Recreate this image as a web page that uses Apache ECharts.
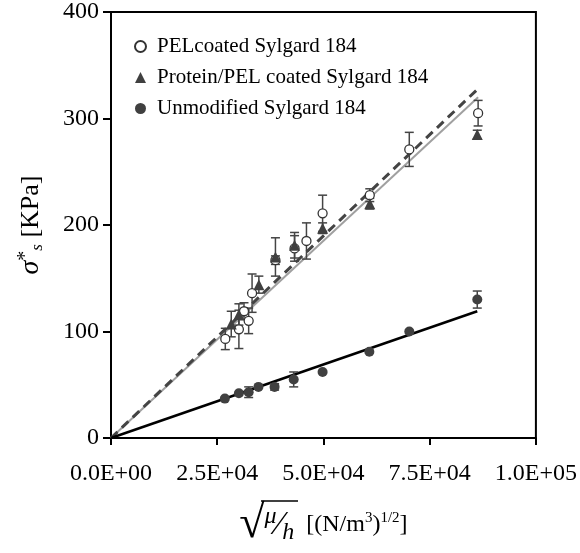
<!DOCTYPE html>
<html>
<head>
<meta charset="utf-8">
<script src="https://cdn.jsdelivr.net/npm/echarts@6/dist/echarts.min.js"></script>
<style>html,body{margin:0;padding:0;background:#fff}#c{width:580px;height:553px}</style>
</head>
<body>
<div id="c"></div>
<script>
// ---- data ----
const seriesNames = ['PELcoated Sylgard 184', 'Protein/PEL coated Sylgard 184', 'Unmodified Sylgard 184'];

const pelX   = [26900, 30100, 31300, 32400, 33200, 38700, 43200, 46000, 49800, 60900, 70200, 86400];
const pelY   = [93, 102, 119, 110, 136, 167, 178, 185, 211, 228, 271, 305];
const pelErr = [10, 18, 8, 12, 18, 4, 12, 17, 17, 6, 16, 12];

const protX   = [28300, 30100, 34800, 38700, 43200, 49800, 60900, 86200];
const protY   = [107, 116, 144, 170, 181, 197, 220, 285];
const protErr = [12, 10, 8, 18, 12, 5, 5, 4];

const unmodX   = [26800, 30100, 32400, 34700, 38500, 43000, 49800, 60800, 70200, 86200];
const unmodY   = [37, 42, 43, 48, 48, 55, 62, 81, 100, 130];
const unmodErr = [0, 0, 5, 0, 3, 7, 0, 0, 0, 8];

const pelFitX = [0, 86400],   pelFitY = [0, 320];
const protFitX = [0, 86400],  protFitY = [0, 328];
const unmodFitX = [0, 86200], unmodFitY = [0, 119];

const xTickValues = [0, 25000, 50000, 75000, 100000];
const xTickLabels = ['0.0E+00', '2.5E+04', '5.0E+04', '7.5E+04', '1.0E+05'];
const yTickLabels = ['0', '100', '200', '300', '400'];

// ---- helpers ----
const zip2 = (a, b) => a.map((v, i) => [v, b[i]]);
const zip3 = (a, b, c) => a.map((v, i) => [v, b[i], c[i]]);
const FONT = 'Liberation Serif';

function errRender(params, api) {
  const x = api.value(0), y = api.value(1), e = api.value(2);
  if (!e) return null;
  const t = api.coord([x, y + e]), b = api.coord([x, y - e]);
  const w = 4.5;
  const st = { stroke: '#444', lineWidth: 1.5 };
  return {
    type: 'group',
    children: [
      { type: 'line', shape: { x1: t[0], y1: t[1], x2: b[0], y2: b[1] }, style: st },
      { type: 'line', shape: { x1: t[0] - w, y1: t[1], x2: t[0] + w, y2: t[1] }, style: st },
      { type: 'line', shape: { x1: b[0] - w, y1: b[1], x2: b[0] + w, y2: b[1] }, style: st }
    ]
  };
}

const chart = echarts.init(document.getElementById('c'), null, { renderer: 'canvas' });
chart.setOption({
  animation: false,
  backgroundColor: '#fff',
  grid: { left: 111, right: 43, top: 12, bottom: 114, show: true, borderColor: '#000', borderWidth: 2, backgroundColor: 'transparent' },
  legend: {
    orient: 'vertical', left: 134, top: 36, padding: 0, itemGap: 10,
    itemWidth: 11, itemHeight: 11,
    data: seriesNames,
    textStyle: { fontFamily: FONT, fontSize: 21, color: '#000', lineHeight: 21, padding: [0, 0, 0, 6] }
  },
  graphic: [
    // overline (vinculum) of the square-root sign in the x-axis title
    { type: 'line', shape: { x1: 261, y1: 501, x2: 298, y2: 501 }, style: { stroke: '#000', lineWidth: 1.5 }, z: 10 }
  ],
  xAxis: {
    type: 'value', min: 0, max: 100000, interval: 25000,
    splitLine: { show: false },
    axisLine: { lineStyle: { color: '#000', width: 2 } },
    axisTick: { inside: false, length: 7, lineStyle: { color: '#000', width: 2 } },
    axisLabel: {
      fontFamily: FONT, fontSize: 24, color: '#000', margin: 24,
      formatter: v => xTickLabels[xTickValues.indexOf(v)]
    },
    name: '{sq|√}{mu|μ}{sl|⁄}{hh|h}{t|  [(N/m}{sup|3}{t|)}{sup|1/2}{t|]}',
    nameLocation: 'middle', nameGap: 62,
    nameTextStyle: {
      fontFamily: FONT, color: '#000',
      rich: {
        sq: { fontFamily: FONT, fontSize: 46, lineHeight: 50 },
        mu: { fontFamily: FONT, fontSize: 24, fontStyle: 'italic', lineHeight: 24, padding: [0, 0, 16, 0] },
        sl: { fontFamily: FONT, fontSize: 34, lineHeight: 34 },
        hh: { fontFamily: FONT, fontSize: 24, fontStyle: 'italic', lineHeight: 24, padding: [16, 0, 0, 0] },
        t: { fontFamily: FONT, fontSize: 24, lineHeight: 24 },
        sup: { fontFamily: FONT, fontSize: 15, lineHeight: 15, padding: [0, 0, 14, 0] }
      }
    }
  },
  yAxis: {
    type: 'value', min: 0, max: 400, interval: 100,
    splitLine: { show: false },
    axisLine: { lineStyle: { color: '#000', width: 2 } },
    axisTick: { inside: false, length: 8, lineStyle: { color: '#000', width: 2 } },
    axisLabel: {
      fontFamily: FONT, fontSize: 24, color: '#000', margin: 12,
      formatter: v => yTickLabels[v / 100]
    },
    name: '{sig|σ}{sup|*}{sub|s}{t| [KPa]}',
    nameLocation: 'middle', nameGap: 66,
    nameTextStyle: {
      fontFamily: FONT, color: '#000',
      rich: {
        sig: { fontFamily: FONT, fontSize: 28, fontStyle: 'italic', lineHeight: 28 },
        sup: { fontFamily: FONT, fontSize: 20, lineHeight: 20, padding: [0, 0, 10, 0] },
        sub: { fontFamily: FONT, fontSize: 17, fontStyle: 'italic', lineHeight: 17, padding: [14, 0, 0, 0] },
        t: { fontFamily: FONT, fontSize: 26, lineHeight: 26 }
      }
    }
  },
  series: [
    { type: 'line', data: zip2(pelFitX, pelFitY), symbol: 'none', lineStyle: { color: '#a0a0a0', width: 2 }, z: 2, silent: true },
    { type: 'line', data: zip2(protFitX, protFitY), symbol: 'none', lineStyle: { color: '#444', width: 3, type: [9, 6] }, z: 2, silent: true },
    { type: 'line', data: zip2(unmodFitX, unmodFitY), symbol: 'none', lineStyle: { color: '#000', width: 2.5 }, z: 2, silent: true },
    { type: 'custom', renderItem: errRender, data: zip3(pelX, pelY, pelErr), z: 3, silent: true },
    { type: 'custom', renderItem: errRender, data: zip3(protX, protY, protErr), z: 3, silent: true },
    { type: 'custom', renderItem: errRender, data: zip3(unmodX, unmodY, unmodErr), z: 3, silent: true },
    { name: seriesNames[0], type: 'scatter', data: zip2(pelX, pelY), symbol: 'circle', symbolSize: 9,
      itemStyle: { color: '#fff', borderColor: '#333', borderWidth: 1.3, opacity: 1 }, z: 4 },
    { name: seriesNames[1], type: 'scatter', data: zip2(protX, protY), symbol: 'triangle', symbolSize: 11,
      itemStyle: { color: '#404040', opacity: 1 }, z: 5 },
    { name: seriesNames[2], type: 'scatter', data: zip2(unmodX, unmodY), symbol: 'circle', symbolSize: 10,
      itemStyle: { color: '#404040', opacity: 1 }, z: 4 }
  ]
});
</script>
</body>
</html>
